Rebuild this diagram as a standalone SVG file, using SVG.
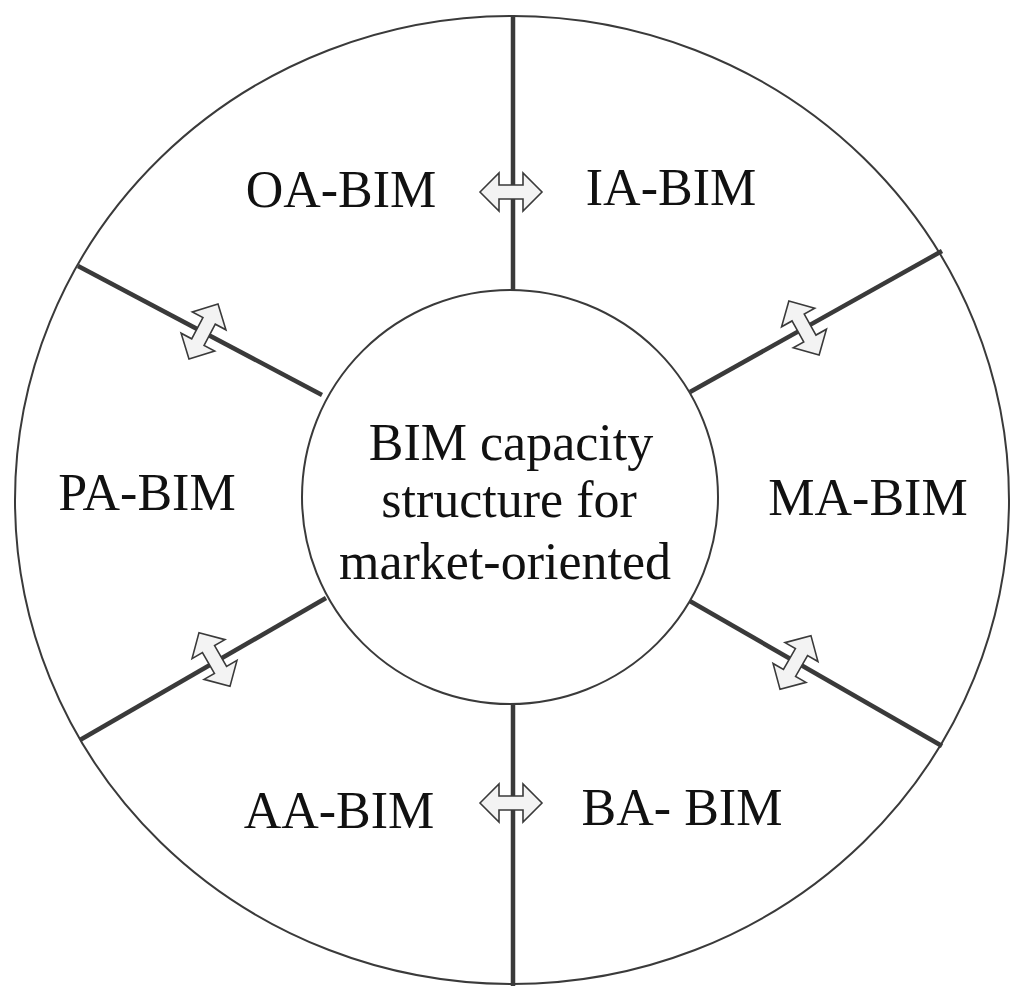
<svg xmlns="http://www.w3.org/2000/svg" width="1024" height="998" viewBox="0 0 1024 998">
<style>
.ring{fill:none;stroke:#3a3a3a;stroke-width:2}
.hub{fill:#fff;stroke:#3a3a3a;stroke-width:2}
.spoke{stroke:#3a3a3a;stroke-width:4.5;stroke-linecap:butt}
.arr{fill:#f3f3f3;stroke:#3a3a3a;stroke-width:1.6;stroke-linejoin:miter}
.lbl{font-family:"Liberation Serif","Times New Roman",serif;font-size:52px;fill:#111;text-anchor:middle}
</style>
<defs>
<path id="dbl" d="M -31 0 L -12 -19 L -12 -7 L 12 -7 L 12 -19 L 31 0 L 12 19 L 12 7 L -12 7 L -12 19 Z"/>
</defs>
<rect width="1024" height="998" fill="#fff"/>
<g id="outer"><ellipse class="ring" cx="512" cy="500" rx="497" ry="484"/></g>
<g id="connectors">
<line class="spoke" x1="513" y1="15" x2="513" y2="291"/>
<line class="spoke" x1="513" y1="703" x2="513" y2="986"/>
<line class="spoke" x1="690" y1="392" x2="942" y2="251"/>
<line class="spoke" x1="688" y1="600" x2="942" y2="746"/>
<line class="spoke" x1="78" y1="266" x2="322" y2="395"/>
<line class="spoke" x1="80" y1="740" x2="326" y2="598"/>
<use class="arr" href="#dbl" transform="translate(511,192)"/>
<use class="arr" href="#dbl" transform="translate(511,803)"/>
<use class="arr" href="#dbl" transform="translate(804,328) rotate(60.8)"/>
<use class="arr" href="#dbl" transform="translate(203.5,331.5) rotate(-62.1)"/>
<use class="arr" href="#dbl" transform="translate(214.5,659.5) rotate(60)"/>
<use class="arr" href="#dbl" transform="translate(795.5,662.5) rotate(-60.1)"/>
</g>
<g id="center">
<ellipse class="hub" cx="510" cy="497" rx="208" ry="207"/>
<text class="lbl" x="511" y="460">BIM capacity</text>
<text class="lbl" x="509" y="517">structure for</text>
<text class="lbl" x="505" y="579">market-oriented</text>
</g>
<g id="oa"><text class="lbl" x="341" y="207">OA-BIM</text></g>
<g id="ia"><text class="lbl" x="671" y="205">IA-BIM</text></g>
<g id="ma"><text class="lbl" x="868" y="515">MA-BIM</text></g>
<g id="ba"><text class="lbl" x="682" y="825">BA- BIM</text></g>
<g id="aa"><text class="lbl" x="339" y="828">AA-BIM</text></g>
<g id="pa"><text class="lbl" x="147" y="510">PA-BIM</text></g>
</svg>
